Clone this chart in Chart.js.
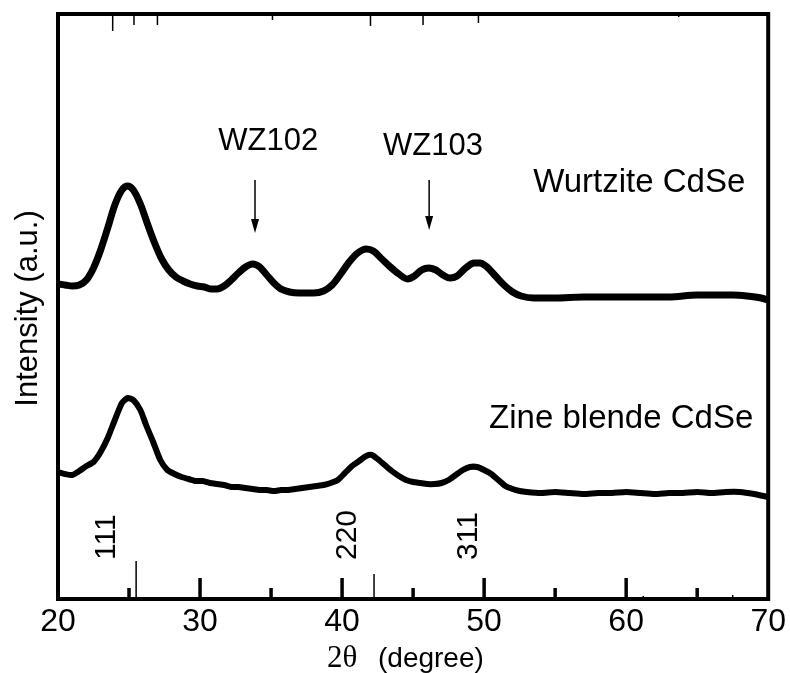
<!DOCTYPE html>
<html>
<head>
<meta charset="utf-8">
<script src="https://cdn.jsdelivr.net/npm/chart.js@4.4.1/dist/chart.umd.min.js"></script>
<style>
    html, body { margin: 0; padding: 0; background: #fff; }
    #wrap { width: 790px; height: 673px; }
</style>
</head>
<body>
<div id="wrap"><canvas id="xrdChart" width="790" height="673"></canvas></div>
<script>
// 2-theta positions (degree) and intensities (a.u., arbitrary offset)
const wurtziteTheta = [20.0, 20.5, 21.0, 21.5, 22.0, 22.5, 23.0, 23.5, 24.0, 24.5, 24.9, 25.3, 25.8, 26.3, 26.8,
    27.3, 27.8, 28.3, 28.8, 29.3, 29.8, 30.3, 30.8, 31.2, 31.7, 32.2, 32.7, 33.2, 33.7, 34.2, 34.7, 35.2, 35.7,
    36.3, 37.0, 38.0, 38.7, 39.3, 39.9, 40.5, 41.1, 41.7, 42.2, 42.8, 43.4, 44.0, 44.6, 45.1, 45.6, 46.1, 46.6,
    47.1, 47.6, 48.1, 48.7, 49.3, 49.7, 50.2, 50.8, 51.4, 52.0, 52.6, 53.5, 55.0, 57.0, 59.0, 61.0, 63.0, 65.0,
    66.0, 67.5, 68.5, 69.5, 70.0];
const wurtziteIntensity = [315, 314, 313, 314, 319, 331, 349, 371, 394, 409, 413, 409, 395, 375, 356,
    340, 329, 322, 318, 315, 313, 312, 310, 310, 313, 319, 326, 332, 335, 332, 324, 316, 310,
    307, 306, 306, 308, 314, 325, 337, 346, 350, 348, 340, 332, 325, 320, 323, 329, 331, 329,
    324, 321, 323, 331, 336, 336, 332, 323, 314, 307, 303, 301, 301, 302, 302, 302, 302, 304,
    304, 304, 303, 301, 299];

const zincTheta = [20.0, 20.5, 21.0, 21.5, 22.0, 22.5, 23.0, 23.5, 24.0, 24.5, 24.9, 25.3, 25.8, 26.2, 26.7,
    27.2, 27.7, 28.2, 28.7, 29.2, 29.7, 30.2, 30.7, 31.2, 31.7, 32.2, 32.7, 33.2, 33.7, 34.2, 34.7, 35.2,
    35.7, 36.2, 36.7, 37.2, 37.7, 38.2, 38.7, 39.2, 39.7, 40.2, 40.7, 41.2, 41.7, 42.1, 42.5, 43.0, 43.5,
    44.0, 44.5, 45.0, 45.5, 46.0, 46.5, 47.0, 47.5, 48.0, 48.5, 49.0, 49.5, 50.0, 50.5, 51.0, 51.5, 52.0,
    52.5, 53.0, 54.0, 55.0, 56.0, 57.0, 58.0, 59.0, 60.0, 61.0, 62.0, 63.0, 64.0, 65.0, 66.0, 67.0, 68.0,
    69.0, 70.0];
const zincIntensity = [127, 125, 124, 128, 133, 137, 147, 161, 179, 196, 201, 199, 189, 174, 157,
    139, 129, 125, 122, 120, 118, 118, 116, 115, 114, 112, 112, 111, 110, 109, 109, 108,
    109, 109, 110, 111, 112, 113, 114, 116, 119, 126, 133, 138, 143, 144, 140, 134, 128,
    123, 119, 117, 116, 115, 115, 116, 119, 124, 129, 132, 132, 129, 125, 119, 113, 110,
    108, 107, 106, 107, 106, 105, 106, 106, 107, 106, 105, 106, 106, 107, 106, 107, 107,
    105, 102];

// reference stick patterns: zinc blende rises from the bottom axis, wurtzite hangs from the top
const zincRefTheta = [25.5, 42.25, 61.2, 67.5];
const zincRefHeight = [38, 25, 3, 4];
const wurtziteRefTheta = [23.85, 25.35, 27.0, 35.1, 42.0, 45.7, 49.6, 63.7];
const wurtziteRefHeight = [17, 11, 11, 6, 12, 11, 9, 3];

const xTicksMajor = [30, 40, 50, 60];
const xTicksMinor = [25, 35, 45, 55, 65];
const xMin = 20, xMax = 70;
const yMin = 0, yMax = 585;

function toPoints(xs, ys) {
    return xs.map((x, i) => ({ x: x, y: ys[i] }));
}

// one dataset of vertical segments separated by gaps
function stickPoints(xs, fromY, heights, downward) {
    const pts = [];
    xs.forEach((x, i) => {
        const end = downward ? fromY - heights[i] : fromY + heights[i];
        pts.push({ x: x, y: fromY });
        pts.push({ x: x, y: end });
        pts.push({ x: x, y: null });
    });
    return pts;
}

const sans = '"Liberation Sans", Arial, sans-serif';

// frame, inward ticks, arrows and labels
const decorPlugin = {
    id: 'decor',
    afterDraw(chart) {
        const ctx = chart.ctx;
        const area = chart.chartArea;
        const xs = chart.scales.x;
        const ys = chart.scales.y;
        ctx.save();

        // frame
        ctx.strokeStyle = '#000';
        ctx.lineWidth = 4;
        ctx.strokeRect(area.left, area.top, area.right - area.left, area.bottom - area.top);

        // inward ticks on the bottom axis
        ctx.lineWidth = 3.5;
        xTicksMajor.forEach(v => {
            const px = xs.getPixelForValue(v);
            ctx.beginPath();
            ctx.moveTo(px, area.bottom);
            ctx.lineTo(px, area.bottom - 21);
            ctx.stroke();
        });
        xTicksMinor.forEach(v => {
            const px = xs.getPixelForValue(v);
            ctx.beginPath();
            ctx.moveTo(px, area.bottom);
            ctx.lineTo(px, area.bottom - 11);
            ctx.stroke();
        });

        // arrows marking WZ reflections
        const arrows = [
            { x: 33.87, y0: 419, y1: 366 },
            { x: 46.13, y0: 419, y1: 369 }
        ];
        ctx.lineWidth = 1.5;
        ctx.fillStyle = '#000';
        arrows.forEach(a => {
            const px = xs.getPixelForValue(a.x);
            const py0 = ys.getPixelForValue(a.y0);
            const py1 = ys.getPixelForValue(a.y1);
            ctx.beginPath();
            ctx.moveTo(px, py0);
            ctx.lineTo(px, py1 - 10);
            ctx.stroke();
            ctx.beginPath();
            ctx.moveTo(px - 4, py1 - 14);
            ctx.lineTo(px + 4, py1 - 14);
            ctx.lineTo(px, py1);
            ctx.closePath();
            ctx.fill();
        });

        // text
        ctx.fillStyle = '#000';
        ctx.textBaseline = 'alphabetic';
        ctx.font = '31px ' + sans;
        ctx.textAlign = 'center';
        ctx.fillText('WZ102', xs.getPixelForValue(34.8), ys.getPixelForValue(449));
        ctx.fillText('WZ103', xs.getPixelForValue(46.4), ys.getPixelForValue(444));

        ctx.font = '33px ' + sans;
        ctx.textAlign = 'left';
        ctx.fillText('Wurtzite CdSe', xs.getPixelForValue(53.45), ys.getPixelForValue(407));
        ctx.fillText('Zine blende CdSe', xs.getPixelForValue(50.35), ys.getPixelForValue(171));

        // Miller indices, rotated
        const hkl = [
            { t: '111', x: 23.4 },
            { t: '220', x: 40.4 },
            { t: '311', x: 48.9 }
        ];
        ctx.font = '30px ' + sans;
        hkl.forEach(h => {
            ctx.save();
            ctx.translate(xs.getPixelForValue(h.x), ys.getPixelForValue(39));
            ctx.rotate(-Math.PI / 2);
            ctx.textAlign = 'left';
            ctx.textBaseline = 'middle';
            ctx.fillText(h.t, 0, 0);
            ctx.restore();
        });

        // y axis title
        ctx.save();
        ctx.translate(28, (area.top + area.bottom) / 2 + 2);
        ctx.rotate(-Math.PI / 2);
        ctx.font = '31px ' + sans;
        ctx.textAlign = 'center';
        ctx.textBaseline = 'middle';
        ctx.fillText('Intensity (a.u.)', 0, 0);
        ctx.restore();

        // x axis title
        ctx.textAlign = 'left';
        ctx.font = '31px "Liberation Serif", "Times New Roman", serif';
        ctx.fillText('2\u03B8', 327, 667);
        ctx.font = '28px ' + sans;
        ctx.fillText('(degree)', 378, 667);

        ctx.restore();
    }
};

const lineStyle = {
    borderColor: '#000',
    pointRadius: 0,
    fill: false,
    showLine: true
};

new Chart(document.getElementById('xrdChart'), {
    type: 'scatter',
    data: {
        datasets: [
            Object.assign({
                label: 'Wurtzite CdSe',
                data: toPoints(wurtziteTheta, wurtziteIntensity),
                borderWidth: 7,
                cubicInterpolationMode: 'monotone'
            }, lineStyle),
            Object.assign({
                label: 'Zine blende CdSe',
                data: toPoints(zincTheta, zincIntensity),
                borderWidth: 6,
                tension: 0.2
            }, lineStyle),
            Object.assign({
                label: 'ZB reference',
                data: stickPoints(zincRefTheta, yMin, zincRefHeight, false),
                borderWidth: 1.5,
                spanGaps: false
            }, lineStyle),
            Object.assign({
                label: 'WZ reference',
                data: stickPoints(wurtziteRefTheta, yMax, wurtziteRefHeight, true),
                borderWidth: 1.5,
                spanGaps: false
            }, lineStyle)
        ]
    },
    options: {
        responsive: false,
        animation: false,
        devicePixelRatio: 1,
        layout: { padding: { left: 58, right: 21, top: 14, bottom: 0 } },
        plugins: {
            legend: { display: false },
            tooltip: { enabled: false }
        },
        scales: {
            x: {
                type: 'linear',
                min: xMin,
                max: xMax,
                grid: { display: false, drawTicks: false },
                border: { display: false },
                ticks: {
                    stepSize: 10,
                    padding: 4,
                    color: '#000',
                    font: { family: sans, size: 32 }
                },
                afterFit(scale) { scale.height = 74; }
            },
            y: {
                display: false,
                min: yMin,
                max: yMax
            }
        }
    },
    plugins: [decorPlugin]
});
</script>
</body>
</html>
